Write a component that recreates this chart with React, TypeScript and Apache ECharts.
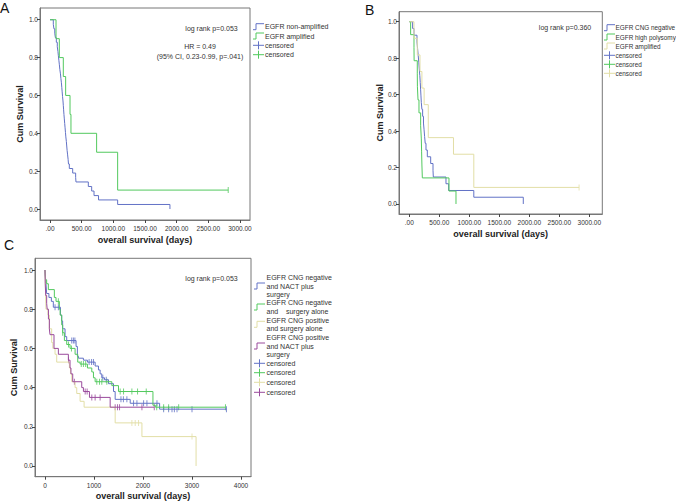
import React, { useEffect, useRef } from 'react';
import * as echarts from 'echarts';

type Pt = [number, number];

// ---------- Panel A ----------
const aNonAmpEvents: Pt[] = [
  [0, 1], [52, 0.976], [62, 0.952], [75, 0.929], [85, 0.905], [100, 0.881], [115, 0.857], [125, 0.833],
  [132, 0.81], [140, 0.786], [148, 0.762], [155, 0.738], [165, 0.714], [172, 0.69], [180, 0.667],
  [186, 0.643], [192, 0.619], [198, 0.595], [205, 0.571], [210, 0.548], [215, 0.524], [220, 0.5],
  [226, 0.476], [232, 0.452], [238, 0.429], [244, 0.405], [250, 0.381], [258, 0.357], [264, 0.333],
  [270, 0.31], [278, 0.286], [286, 0.262], [292, 0.238], [305, 0.214], [358, 0.19], [405, 0.167],
  [410, 0.143], [605, 0.119], [658, 0.095], [695, 0.071], [766, 0.048], [1068, 0.024], [1894, 0],
];
const aNonAmpCensored: number[] = [];
const aAmpEvents: Pt[] = [
  [0, 1], [95, 0.9], [147, 0.8], [210, 0.7], [247, 0.6], [316, 0.5], [331, 0.4], [736, 0.3], [1068, 0.1],
];
const aAmpCensored: number[] = [2814];

// ---------- Panel B ----------
const bNegEvents: Pt[] = [
  [0, 1], [55, 0.963], [78, 0.926], [128, 0.889], [138, 0.852], [148, 0.815], [158, 0.778], [166, 0.741],
  [175, 0.704], [182, 0.667], [188, 0.63], [194, 0.593], [200, 0.556], [210, 0.519], [222, 0.481],
  [236, 0.444], [246, 0.407], [255, 0.37], [265, 0.333], [278, 0.296], [300, 0.259], [356, 0.222],
  [395, 0.185], [400, 0.148], [611, 0.111], [656, 0.074], [1075, 0.037], [1900, 0],
];
const bNegCensored: number[] = [];
const bPolyEvents: Pt[] = [
  [0, 1], [22, 0.929], [78, 0.857], [80, 0.786], [133, 0.714], [135, 0.643], [145, 0.571], [161, 0.5],
  [189, 0.429], [200, 0.357], [205, 0.286], [210, 0.214], [217, 0.143], [661, 0.071], [778, 0],
];
const bPolyCensored: number[] = [];
const bAmpEvents: Pt[] = [
  [0, 1], [78, 0.909], [133, 0.818], [178, 0.727], [210, 0.636], [247, 0.545], [316, 0.364], [736, 0.273],
  [1075, 0.091],
];
const bAmpCensored: number[] = [2830];

// ---------- Panel C ----------
const cNegNactEvents: Pt[] = [
  [0, 1], [10, 0.96], [20, 0.93], [34, 0.88], [80, 0.86], [130, 0.84], [170, 0.81], [315, 0.77],
  [340, 0.74], [360, 0.7], [409, 0.66], [443, 0.64], [634, 0.61], [661, 0.56], [682, 0.55], [784, 0.54],
  [866, 0.53], [1023, 0.51], [1091, 0.49], [1125, 0.47], [1159, 0.45], [1214, 0.44], [1296, 0.42],
  [1398, 0.38], [1432, 0.34], [1739, 0.32], [2339, 0.29],
];
const cNegNactCensored: number[] = [
  205, 273, 546, 580, 610, 900, 950, 989, 1180, 1250, 1550, 1600, 1671, 1807, 1876, 2012, 2080, 2285,
  2421, 2523, 2592, 2640, 2694, 3000, 3703,
];
const cNegSurgEvents: Pt[] = [
  [0, 1], [10, 0.95], [34, 0.93], [68, 0.9], [191, 0.86], [225, 0.84], [293, 0.8], [310, 0.77],
  [341, 0.72], [361, 0.68], [396, 0.64], [443, 0.62], [511, 0.6], [614, 0.57], [668, 0.53], [716, 0.52],
  [866, 0.5], [955, 0.48], [989, 0.45], [1023, 0.43], [1364, 0.41], [1500, 0.38], [2203, 0.31], [2251, 0.3],
];
const cNegSurgCensored: number[] = [
  273, 361, 480, 540, 740, 784, 830, 1057, 1112, 1159, 1262, 1534, 1603, 1773, 1889, 2066, 2280, 2421,
  2523, 2728, 3683,
];
const cPosSurgEvents: Pt[] = [
  [0, 1], [10, 0.9], [20, 0.8], [60, 0.77], [89, 0.7], [136, 0.63], [160, 0.6], [205, 0.57], [239, 0.53],
  [498, 0.5], [520, 0.47], [546, 0.43], [614, 0.4], [648, 0.37], [716, 0.33], [798, 0.3], [1432, 0.22],
  [1978, 0.15], [3083, 0],
];
const cPosSurgCensored: number[] = [1773, 1841, 1909, 3000];
const cPosNactEvents: Pt[] = [
  [0, 1], [5, 0.93], [15, 0.87], [34, 0.83], [45, 0.8], [70, 0.75], [89, 0.7], [102, 0.67], [184, 0.6],
  [273, 0.57], [477, 0.54], [511, 0.5], [530, 0.47], [566, 0.43], [750, 0.4], [784, 0.38], [907, 0.35],
  [1330, 0.3],
];
const cPosNactCensored: number[] = [
  480, 600, 820, 860, 955, 1023, 1125, 1432, 1480, 1521, 1978, 2230,
];

// ---------- Ticks & labels ----------
const xTicksAB = [0, 500, 1000, 1500, 2000, 2500, 3000];
const xTicksC = [0, 1000, 2000, 3000, 4000];
const yTicks = [0, 0.2, 0.4, 0.6, 0.8, 1.0];

const legendA = ['EGFR non-amplified', 'EGFR amplified', 'censored', 'censored'];
const legendB = ['EGFR CNG negative', 'EGFR high polysomy', 'EGFR amplified', 'censored', 'censored', 'censored'];
const legendC = [
  'EGFR CNG negative\nand NACT plus\nsurgery',
  'EGFR CNG negative\nand    surgery alone',
  'EGFR CNG positive\nand surgery alone',
  'EGFR CNG positive\nand NACT plus\nsurgery',
  'censored', 'censored', 'censored', 'censored',
];

const BLUE = '#6272c6';
const GREEN = '#52c95e';
const YELLOW = '#e2dea6';
const PURPLE = '#9a4a9c';
const FONT = 'Liberation Sans, Arial, sans-serif';

function survAt(events: Pt[], t: number): number {
  let s = 1;
  for (const [d, v] of events) {
    if (d <= t) s = v;
    else break;
  }
  return s;
}

function lineData(events: Pt[], censored: number[]): Pt[] {
  const data: Pt[] = events.map((e) => [e[0], e[1]] as Pt);
  const last = events[events.length - 1];
  const maxC = censored.length ? Math.max(...censored) : -1;
  if (maxC > last[0]) data.push([maxC, last[1]]);
  return data;
}

function curveSeries(idx: number, events: Pt[], censored: number[], color: string): any[] {
  const out: any[] = [
    {
      type: 'line',
      xAxisIndex: idx,
      yAxisIndex: idx,
      step: 'end',
      symbol: 'none',
      data: lineData(events, censored),
      lineStyle: { color, width: 1 },
      itemStyle: { color },
      silent: true,
    },
  ];
  if (censored.length) {
    out.push({
      type: 'scatter',
      xAxisIndex: idx,
      yAxisIndex: idx,
      symbol: 'rect',
      symbolSize: [1, 6],
      data: censored.map((d) => [d, survAt(events, d)]),
      itemStyle: { color },
      silent: true,
    });
  }
  return out;
}

function xAxisCfg(grid: number, min: number, max: number, ticks: number[], fmt: (v: number) => string) {
  return {
    type: 'value',
    gridIndex: grid,
    min,
    max,
    name: 'overall survival (days)',
    nameLocation: 'middle',
    nameGap: 15,
    nameTextStyle: { fontSize: 9, fontWeight: 'bold', color: '#222', fontFamily: FONT },
    axisLine: { show: true, onZero: false, lineStyle: { color: '#777', width: 1 } },
    axisTick: { show: true, length: 3, customValues: ticks, lineStyle: { color: '#444' } },
    axisLabel: { customValues: ticks, formatter: fmt, fontSize: 6.5, color: '#333', margin: 5, fontFamily: FONT },
    splitLine: { show: false },
  };
}

function yAxisCfg(grid: number, min: number, max: number, gap: number) {
  return {
    type: 'value',
    gridIndex: grid,
    min,
    max,
    name: 'Cum Survival',
    nameLocation: 'middle',
    nameGap: gap,
    nameTextStyle: { fontSize: 9, fontWeight: 'bold', color: '#222', fontFamily: FONT },
    axisLine: { show: true, onZero: false, lineStyle: { color: '#777', width: 1 } },
    axisTick: { show: true, length: 3, customValues: yTicks, lineStyle: { color: '#444' } },
    axisLabel: { customValues: yTicks, formatter: (v: number) => v.toFixed(1), fontSize: 6.5, color: '#333', margin: 2, fontFamily: FONT },
    splitLine: { show: false },
  };
}

function txt(x: number, y: number, text: string, size: number, align = 'left', extra: any = {}) {
  return {
    type: 'text',
    x,
    y,
    style: {
      text,
      fontSize: size,
      fontFamily: FONT,
      fill: '#333',
      textAlign: align,
      align,
      textVerticalAlign: 'middle',
      verticalAlign: 'middle',
      ...extra,
    },
    silent: true,
  };
}

function stepIcon(x: number, y: number, color: string) {
  return {
    type: 'polyline',
    shape: { points: [[x, y + 3], [x + 3, y + 3], [x + 3, y - 3], [x + 11, y - 3]] },
    style: { stroke: color, lineWidth: 1, fill: null },
    silent: true,
  };
}

function censorIcon(x: number, y: number, color: string) {
  return [
    { type: 'line', shape: { x1: x, y1: y, x2: x + 11, y2: y }, style: { stroke: color, lineWidth: 1 }, silent: true },
    { type: 'line', shape: { x1: x + 5.5, y1: y - 4, x2: x + 5.5, y2: y + 4 }, style: { stroke: color, lineWidth: 1 }, silent: true },
  ];
}

export default function App() {
  const ref = useRef<HTMLDivElement>(null);

  useEffect(() => {
    document.body.style.margin = '0';
    if (!ref.current) return;
    const chart = echarts.init(ref.current, undefined, { renderer: 'svg' });

    const fmtAB = (v: number) => (v === 0 ? '.00' : v.toFixed(2));
    const fmtC = (v: number) => String(v);

    const graphic: any[] = [];
    // panel letters
    graphic.push(txt(0, 8, 'A', 14, 'left', { fill: '#111' }));
    graphic.push(txt(365, 10, 'B', 14, 'left', { fill: '#111' }));
    graphic.push(txt(4, 245, 'C', 14, 'left', { fill: '#111' }));
    // annotations
    graphic.push(txt(211.5, 28.7, 'log rank p=0.053', 7, 'center'));
    graphic.push(txt(200, 46.7, 'HR = 0.49', 7, 'center'));
    graphic.push(txt(200, 56, '(95% CI, 0.23-0.99, p=.041)', 7, 'center'));
    graphic.push(txt(565, 27.7, 'log rank p=0.360', 7, 'center'));
    graphic.push(txt(211.5, 278.3, 'log rank p=0.053', 7, 'center'));

    // legend A
    const aColors = [BLUE, GREEN, BLUE, GREEN];
    const aRows = [26.7, 36, 45.3, 54.7];
    legendA.forEach((label, i) => {
      if (i < 2) graphic.push(stepIcon(253, aRows[i], aColors[i]));
      else graphic.push(...censorIcon(253, aRows[i], aColors[i]));
      graphic.push(txt(265, aRows[i], label, 7));
    });
    // legend B
    const bColors = [BLUE, GREEN, YELLOW, BLUE, GREEN, YELLOW];
    const bRows = [27.7, 37, 46, 55.3, 64.3, 73.3];
    legendB.forEach((label, i) => {
      if (i < 3) graphic.push(stepIcon(604, bRows[i], bColors[i]));
      else graphic.push(...censorIcon(604, bRows[i], bColors[i]));
      graphic.push(txt(615.5, bRows[i], label, 6.4));
    });
    // legend C
    const cColors = [BLUE, GREEN, YELLOW, PURPLE, BLUE, GREEN, YELLOW, PURPLE];
    const cRows = [286, 307, 324.3, 346, 363.3, 372.7, 382.3, 392.3];
    legendC.forEach((label, i) => {
      if (i < 4) graphic.push(stepIcon(254, cRows[i], cColors[i]));
      else graphic.push(...censorIcon(254, cRows[i], cColors[i]));
      graphic.push(txt(266.5, cRows[i], label, 7, 'left', { lineHeight: 8.3 }));
    });

    const option: any = {
      animation: false,
      backgroundColor: '#fff',
      grid: [
        { left: 40, top: 8, width: 210, height: 212, show: true, borderColor: '#777', borderWidth: 1 },
        { left: 399, top: 11.7, width: 203.3, height: 202.3, show: true, borderColor: '#777', borderWidth: 1 },
        { left: 35, top: 258.3, width: 216, height: 218.4, show: true, borderColor: '#777', borderWidth: 1 },
      ],
      xAxis: [
        xAxisCfg(0, -158, 3158, xTicksAB, fmtAB),
        xAxisCfg(1, -172, 3217, xTicksAB, fmtAB),
        xAxisCfg(2, -204, 4204, xTicksC, fmtC),
      ],
      yAxis: [
        yAxisCfg(0, -0.058, 1.062, 16),
        yAxisCfg(1, -0.055, 1.055, 15),
        yAxisCfg(2, -0.0546, 1.0597, 17),
      ],
      series: [
        ...curveSeries(0, aNonAmpEvents, aNonAmpCensored, BLUE),
        ...curveSeries(0, aAmpEvents, aAmpCensored, GREEN),
        ...curveSeries(1, bNegEvents, bNegCensored, BLUE),
        ...curveSeries(1, bPolyEvents, bPolyCensored, GREEN),
        ...curveSeries(1, bAmpEvents, bAmpCensored, YELLOW),
        ...curveSeries(2, cNegNactEvents, cNegNactCensored, BLUE),
        ...curveSeries(2, cNegSurgEvents, cNegSurgCensored, GREEN),
        ...curveSeries(2, cPosSurgEvents, cPosSurgCensored, YELLOW),
        ...curveSeries(2, cPosNactEvents, cPosNactCensored, PURPLE),
      ],
      graphic,
    };
    chart.setOption(option);
    return () => chart.dispose();
  }, []);

  return <div ref={ref} style={{ width: 676, height: 502 }} />;
}
